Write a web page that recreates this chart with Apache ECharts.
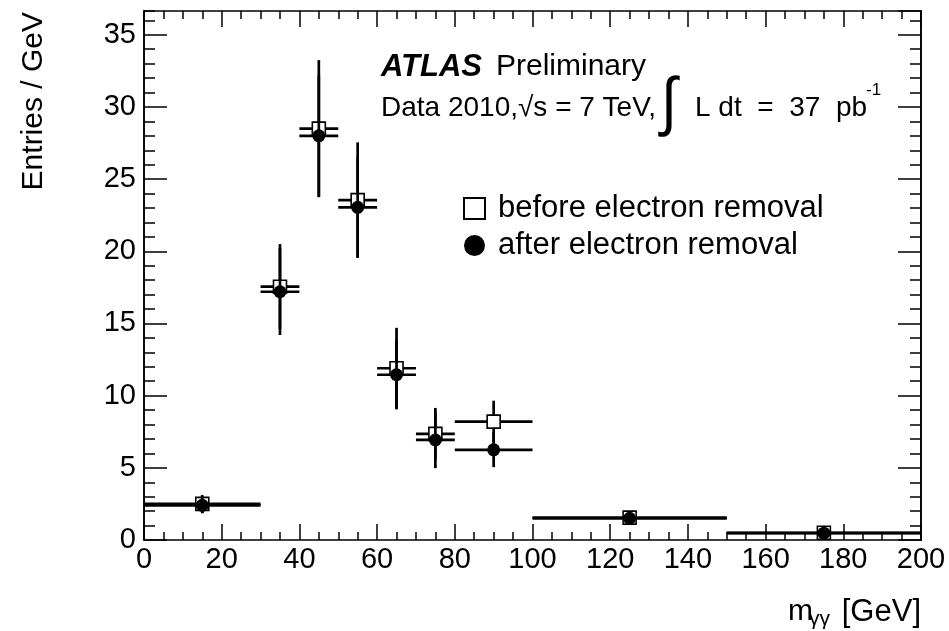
<!DOCTYPE html>
<html>
<head>
<meta charset="utf-8">
<script src="https://cdn.jsdelivr.net/npm/echarts@6/dist/echarts.min.js"></script>
<style>
  html, body { margin: 0; padding: 0; background: #ffffff; }
  #chart { width: 949px; height: 631px; }
</style>
</head>
<body>
<div id="chart"></div>
<script>
// Diphoton mass bins (GeV)
const binLow  = [0, 30, 40, 50, 60, 70, 80, 100, 150];
const binHigh = [30, 40, 50, 60, 70, 80, 100, 150, 200];

// Entries / GeV before electron removal
const beforeVal = [2.5, 17.55, 28.5, 23.55, 11.9, 7.35, 8.2, 1.55, 0.5];
const beforeErr = [0.62, 2.95, 4.75, 4.0, 2.8, 1.8, 1.45, 0.25, 0.15];

// Entries / GeV after electron removal
const afterVal = [2.4, 17.2, 28.0, 23.05, 11.45, 6.93, 6.25, 1.5, 0.47];
const afterErr = [0.55, 3.0, 4.2, 3.5, 2.4, 1.95, 1.2, 0.22, 0.14];

// Axis ranges and tick steps
const xMin = 0, xMax = 200, xStep = 20, xMinorSplit = 4;
const yMin = 0, yMax = 36.65, yStep = 5, yMinorStep = 1;

const FONT = '"Liberation Sans", Arial, Helvetica, sans-serif';

function barRows(vals, errs) {
  return binLow.map((lo, i) => [lo, binHigh[i], vals[i], vals[i] - errs[i], vals[i] + errs[i], (lo + binHigh[i]) / 2]);
}
function markerRows(vals) {
  return binLow.map((lo, i) => [(lo + binHigh[i]) / 2, vals[i]]);
}

// Horizontal bin-width bar plus vertical error bar for one point
function renderErrorBar(params, api) {
  const lo = api.value(0), hi = api.value(1), v = api.value(2);
  const yLo = api.value(3), yHi = api.value(4), c = api.value(5);
  const pL = api.coord([lo, v]), pR = api.coord([hi, v]);
  const pB = api.coord([c, yLo]), pT = api.coord([c, yHi]);
  const st = { stroke: '#000', lineWidth: 2.7, fill: null };
  return {
    type: 'group',
    children: [
      { type: 'line', shape: { x1: pL[0], y1: pL[1], x2: pR[0], y2: pR[1] }, style: st },
      { type: 'line', shape: { x1: pB[0], y1: pB[1], x2: pT[0], y2: pT[1] }, style: st }
    ]
  };
}

const gridBox = { left: 144, right: 28, top: 11, bottom: 91 };
const axisLineStyle = { color: '#000', width: 1.6 };

function xAxisDef(gridIndex, position, labels, visible) {
  return {
    type: 'value', gridIndex, position, show: visible,
    min: xMin, max: xMax, interval: xStep,
    axisLine: { show: true, onZero: false, lineStyle: axisLineStyle },
    axisTick: { show: true, inside: true, length: 16, lineStyle: { color: '#000', width: 1.5 } },
    minorTick: { show: true, splitNumber: xMinorSplit, length: 8, lineStyle: { color: '#000', width: 1.5 } },
    axisLabel: { show: labels, color: '#000', fontSize: 29, fontFamily: FONT, margin: 5 },
    splitLine: { show: false }, minorSplitLine: { show: false }
  };
}
function yAxisDef(gridIndex, position, labels, step, len) {
  return {
    type: 'value', gridIndex, position,
    min: yMin, max: yMax, interval: step,
    axisLine: { show: true, onZero: false, lineStyle: axisLineStyle },
    axisTick: { show: true, inside: true, length: len, lineStyle: { color: '#000', width: 1.5 } },
    axisLabel: { show: labels, color: '#000', fontSize: 29, fontFamily: FONT, margin: 8, showMaxLabel: false },
    splitLine: { show: false }
  };
}

const chart = echarts.init(document.getElementById('chart'), null, { renderer: 'canvas' });

chart.setOption({
  animation: false,
  backgroundColor: '#ffffff',
  grid: [Object.assign({}, gridBox), Object.assign({}, gridBox)],
  xAxis: [
    xAxisDef(0, 'bottom', true, true),
    xAxisDef(0, 'top', false, true),
    xAxisDef(1, 'bottom', false, false)
  ],
  yAxis: [
    yAxisDef(0, 'left', true, yStep, 23),
    yAxisDef(0, 'right', false, yStep, 23),
    yAxisDef(1, 'left', false, yMinorStep, 11),
    yAxisDef(1, 'right', false, yMinorStep, 11)
  ],
  legend: {
    orient: 'vertical', left: 463, top: 193, padding: 0,
    itemWidth: 21, itemHeight: 21, itemGap: 6,
    selectedMode: false,
    textStyle: { color: '#000', fontSize: 31, fontFamily: FONT, padding: [0, 0, 0, 8] },
    data: ['before electron removal', 'after electron removal']
  },
  series: [
    {
      type: 'custom', name: 'before bars', xAxisIndex: 0, yAxisIndex: 0, z: 2,
      renderItem: renderErrorBar, data: barRows(beforeVal, beforeErr),
      encode: { x: [0, 1, 5], y: [2, 3, 4] }, silent: true
    },
    {
      type: 'scatter', name: 'before electron removal', xAxisIndex: 0, yAxisIndex: 0, z: 3,
      symbol: 'rect', symbolSize: 13,
      itemStyle: { color: '#ffffff', borderColor: '#000', borderWidth: 1.6, opacity: 1 },
      data: markerRows(beforeVal)
    },
    {
      type: 'custom', name: 'after bars', xAxisIndex: 0, yAxisIndex: 0, z: 4,
      renderItem: renderErrorBar, data: barRows(afterVal, afterErr),
      encode: { x: [0, 1, 5], y: [2, 3, 4] }, silent: true
    },
    {
      type: 'scatter', name: 'after electron removal', xAxisIndex: 0, yAxisIndex: 0, z: 5,
      symbol: 'circle', symbolSize: 13,
      itemStyle: { color: '#000', borderWidth: 0, opacity: 1 },
      data: markerRows(afterVal)
    }
  ],
  graphic: [
    {
      type: 'text', x: 381, y: 67,
      style: { text: 'ATLAS', font: 'italic bold 31px ' + FONT, fill: '#000',
               textVerticalAlign: 'middle', verticalAlign: 'middle' }
    },
    {
      type: 'text', x: 496, y: 67,
      style: { text: 'Preliminary', font: '30px ' + FONT, fill: '#000',
               textVerticalAlign: 'middle', verticalAlign: 'middle' }
    },
    {
      type: 'text', x: 381, y: 108,
      style: { text: 'Data 2010,\u221As = 7 TeV,', font: '28px ' + FONT, fill: '#000',
               textVerticalAlign: 'middle', verticalAlign: 'middle' }
    },
    {
      type: 'text', x: 661, y: 105, scaleY: 1.12,
      style: { text: '\u222B', font: '58px ' + FONT, fill: '#000',
               textVerticalAlign: 'middle', verticalAlign: 'middle' }
    },
    {
      type: 'text', x: 695, y: 108,
      style: { text: 'L dt  =  37  pb', font: '28px ' + FONT, fill: '#000',
               textVerticalAlign: 'middle', verticalAlign: 'middle' }
    },
    {
      type: 'text', x: 866, y: 90,
      style: { text: '-1', font: '17px ' + FONT, fill: '#000',
               textVerticalAlign: 'middle', verticalAlign: 'middle' }
    },
    {
      type: 'text', x: 34, y: 12, rotation: Math.PI / 2,
      style: { text: 'Entries / GeV', font: '30px ' + FONT, fill: '#000',
               textAlign: 'right', align: 'right', textVerticalAlign: 'middle', verticalAlign: 'middle' }
    },
    {
      type: 'text', x: 788, y: 612,
      style: { text: 'm', font: '30px ' + FONT, fill: '#000',
               textVerticalAlign: 'middle', verticalAlign: 'middle' }
    },
    {
      type: 'text', x: 809, y: 619,
      style: { text: '\u03B3\u03B3', font: '21px ' + FONT, fill: '#000',
               textVerticalAlign: 'middle', verticalAlign: 'middle' }
    },
    {
      type: 'text', x: 921, y: 612,
      style: { text: '[GeV]', font: '31px ' + FONT, fill: '#000',
               textAlign: 'right', align: 'right', textVerticalAlign: 'middle', verticalAlign: 'middle' }
    }
  ]
});
</script>
</body>
</html>
